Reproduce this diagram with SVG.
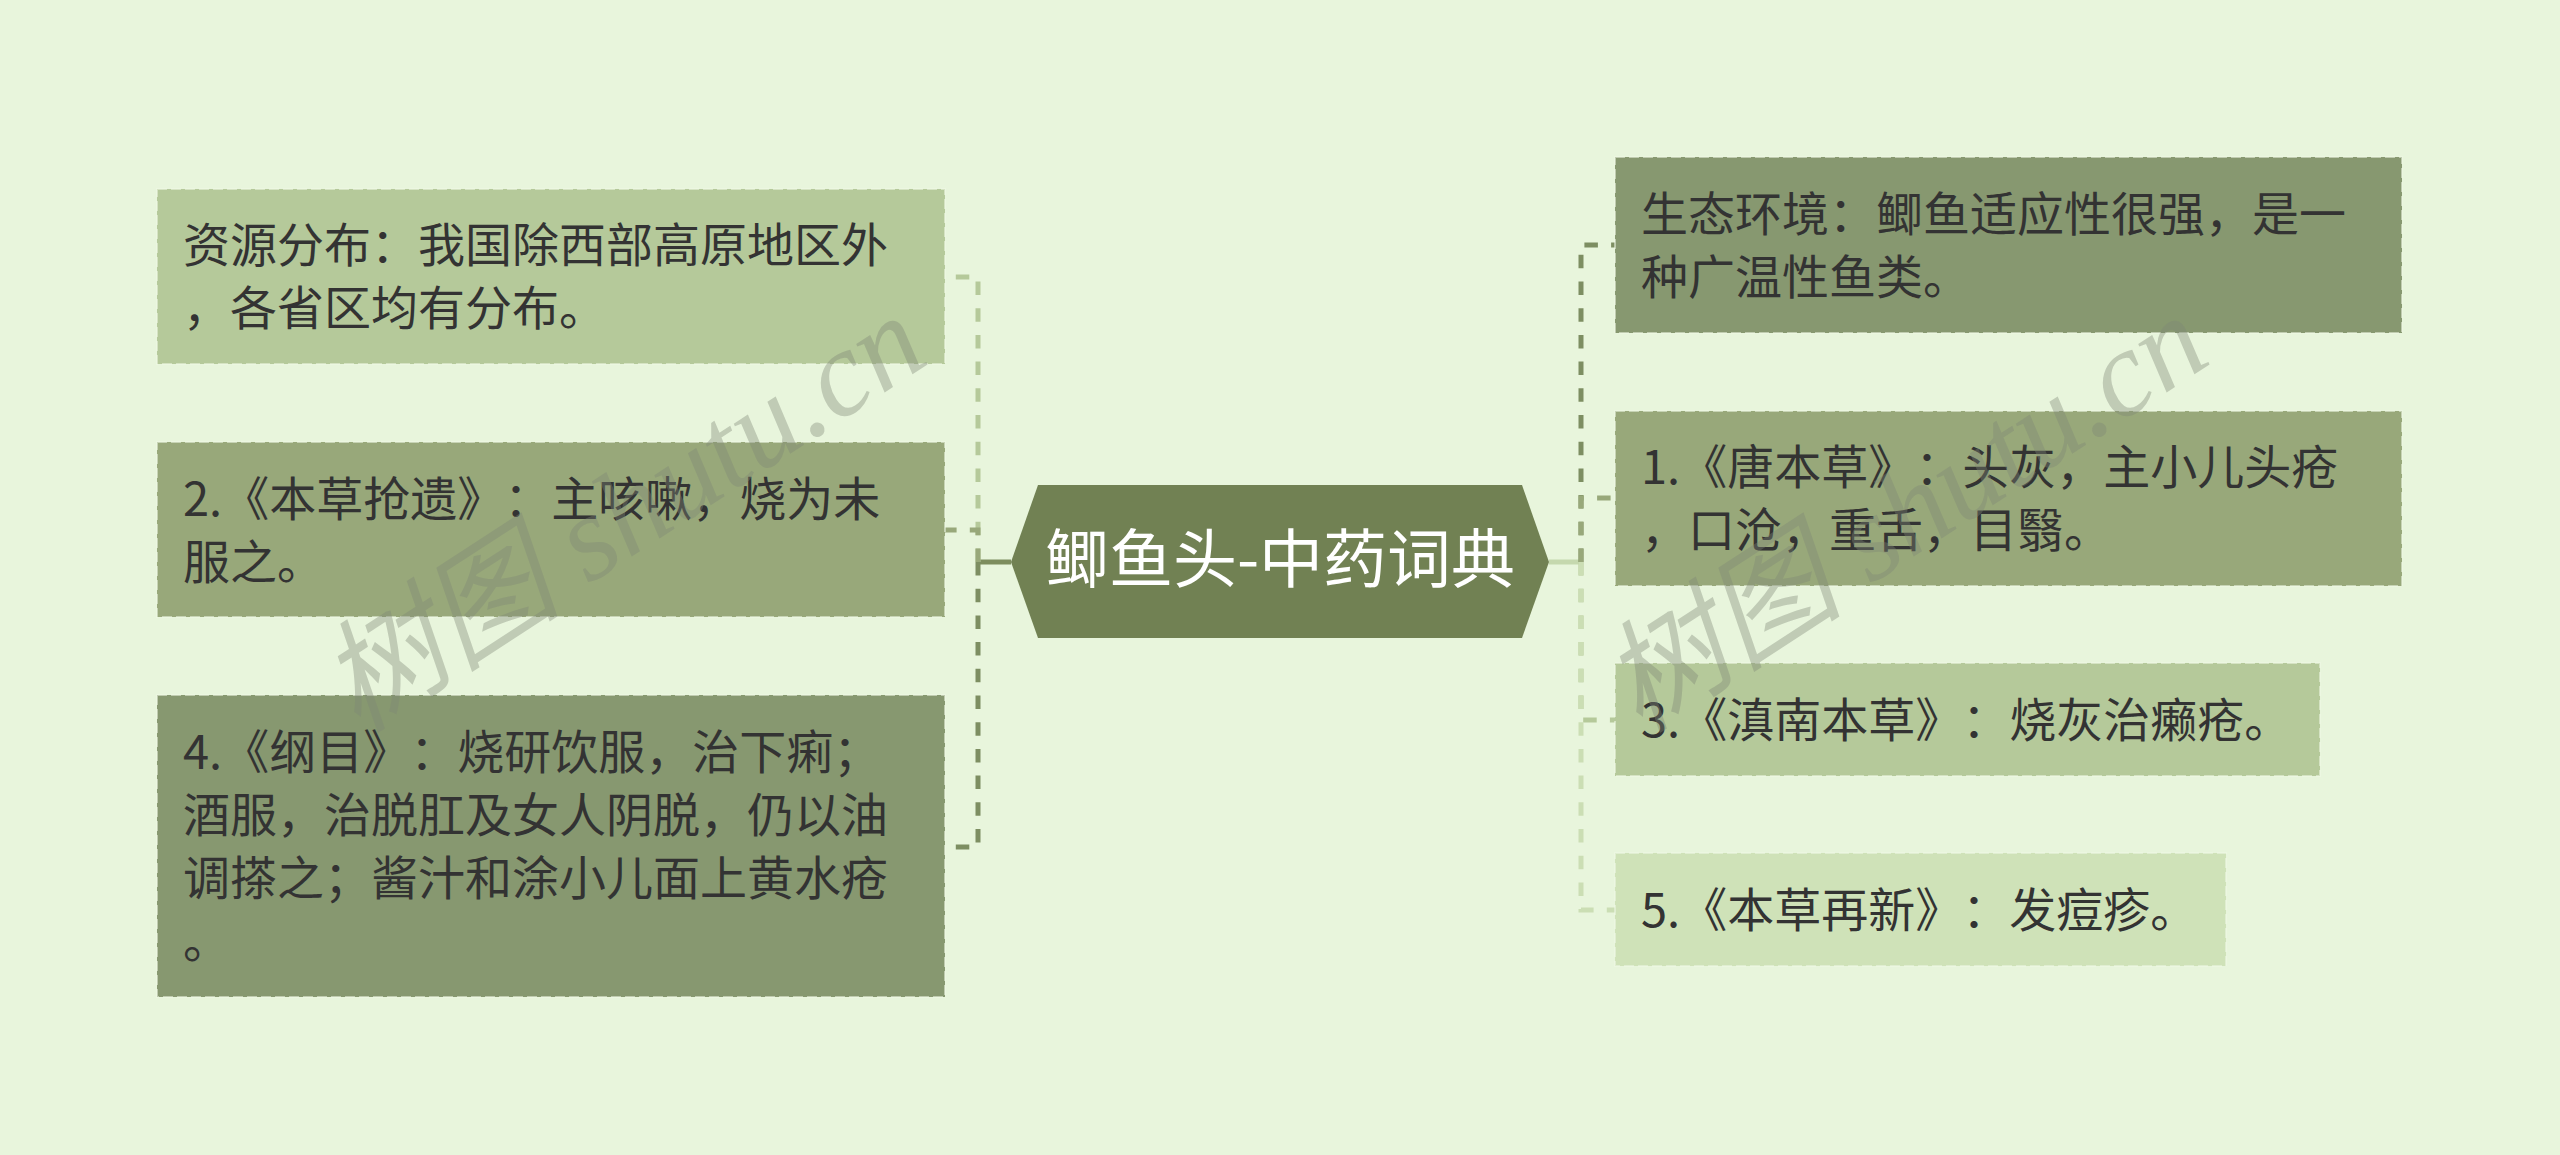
<svg xmlns="http://www.w3.org/2000/svg" width="2560" height="1155" viewBox="0 0 2560 1155">
<style>
text{text-spacing-trim:space-all}
.t{font-family:"Noto Sans CJK SC","Noto Sans",sans-serif;font-size:47px;fill:#333333}
.c{font-family:"Noto Sans CJK SC","Noto Sans",sans-serif;font-size:64px;fill:#ffffff;text-anchor:middle}
.box{stroke:#eef7e6;stroke-opacity:0.55;stroke-width:2;stroke-dasharray:10 4}
.l1{fill:#b5c99a}.l2{fill:#98a87a}.l3{fill:#879870}.l4{fill:#cfe2b8}
.cn{fill:none;stroke-width:5;stroke-dasharray:13.5 13.2}
.wm{font-family:"Liberation Serif","Noto Sans CJK SC",serif;font-style:italic;font-size:122px;fill:#7d8575;fill-opacity:0.38}
</style>
<rect width="2560" height="1155" fill="#e8f5dc"/>
<g id="connectors">
<line x1="1011" y1="562" x2="978" y2="562" stroke="#7d8d5e" stroke-width="5"/>
<path class="cn" stroke="#b5c99a" d="M978,562 V277 H945"/>
<path class="cn" stroke="#98a87a" d="M978,562 V530 H945"/>
<path class="cn" stroke="#7d8e62" d="M978,562 V847 H945"/>
<line x1="1549" y1="562" x2="1581" y2="562" stroke="#c5d8ae" stroke-width="5"/>
<path class="cn" stroke="#7d8e62" d="M1581,562 V245 H1615"/>
<path class="cn" stroke="#98a87a" d="M1581,562 V498 H1615"/>
<path class="cn" stroke="#b5c99a" d="M1581,562 V720 H1615"/>
<path class="cn" stroke="#cbdeb4" d="M1581,562 V910 H1615"/>
</g>
<g id="center">
<polygon points="1011,562 1038,485 1522,485 1549,562 1522,638 1038,638" fill="#718153"/>
<text class="c" x="1280" y="582">鲫鱼头-中药词典</text>
</g>
<g id="node-ziyuan">
<rect class="box l1" x="157" y="189" width="788" height="175"/>
<text class="t"><tspan x="183" y="262">资源分布：我国除西部高原地区外</tspan><tspan x="183" y="325">，各省区均有分布。</tspan></text>
</g>
<g id="node-2">
<rect class="box l2" x="157" y="442" width="788" height="175"/>
<text class="t"><tspan x="183" y="516">2.《本草抢遗》：主咳嗽，烧为未</tspan><tspan x="183" y="579">服之。</tspan></text>
</g>
<g id="node-4">
<rect class="box l3" x="157" y="695" width="788" height="302"/>
<text class="t"><tspan x="183" y="769">4.《纲目》：烧研饮服，治下痢；</tspan><tspan x="183" y="832">酒服，治脱肛及女人阴脱，仍以油</tspan><tspan x="183" y="895">调搽之；酱汁和涂小儿面上黄水疮</tspan><tspan x="183" y="958">。</tspan></text>
</g>
<g id="node-shengtai">
<rect class="box l3" x="1615" y="157" width="787" height="176"/>
<text class="t"><tspan x="1641" y="231">生态环境：鲫鱼适应性很强，是一</tspan><tspan x="1641" y="294">种广温性鱼类。</tspan></text>
</g>
<g id="node-1">
<rect class="box l2" x="1615" y="411" width="787" height="175"/>
<text class="t"><tspan x="1641" y="484">1.《唐本草》：头灰，主小儿头疮</tspan><tspan x="1641" y="547">，口沧，重舌，目翳。</tspan></text>
</g>
<g id="node-3">
<rect class="box l1" x="1615" y="663" width="705" height="113"/>
<text class="t" x="1641" y="737">3.《滇南本草》：烧灰治癞疮。</text>
</g>
<g id="node-5">
<rect class="box l4" x="1615" y="853" width="611" height="113"/>
<text class="t" x="1641" y="927">5.《本草再新》：发痘疹。</text>
</g>
<g id="watermark">
<text class="wm" x="0" y="0" text-anchor="middle" transform="translate(645,548) rotate(-33)">树图 shutu.cn</text>
<text class="wm" x="0" y="0" text-anchor="middle" transform="translate(1927,548) rotate(-33)">树图 shutu.cn</text>
</g>
</svg>
